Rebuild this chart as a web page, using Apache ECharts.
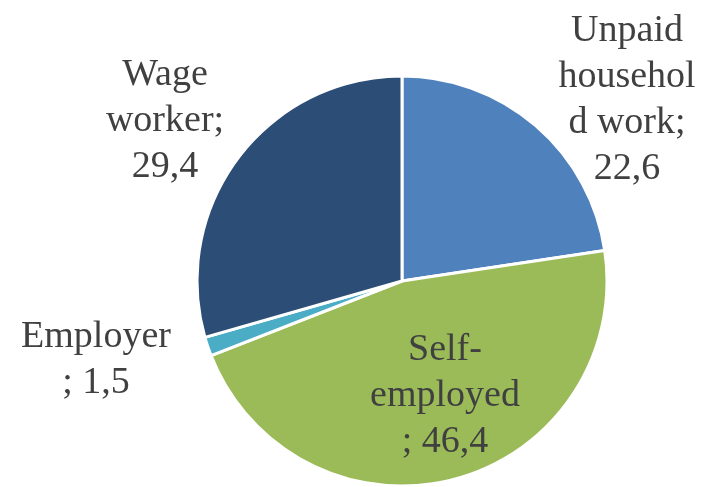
<!DOCTYPE html>
<html>
<head>
<meta charset="utf-8">
<script src="https://cdn.jsdelivr.net/npm/echarts@6/dist/echarts.min.js"></script>
<style>
  html, body { margin: 0; padding: 0; background: #ffffff; }
  #chart { width: 707px; height: 487px; }
</style>
</head>
<body>
<div id="chart"></div>
<script>
// Employment status shares (%)
const categories = ['Unpaid household work', 'Self-employed', 'Employer', 'Wage worker'];
const values = [22.6, 46.4, 1.5, 29.4];
// Category text as wrapped in the label boxes
const wrappedNames = ['Unpaid\nhousehol\nd work;', 'Self-\nemployed\n;', 'Employer\n;', 'Wage\nworker;'];
const colors = ['#4F81BD', '#9BBB59', '#4BACC6', '#2C4D75'];

// Label box centres (layout only)
const labelSpots = [[627, 100], [445, 396], [96, 360], [165, 121]];

const fmt = v => String(v).replace('.', ',');

const chart = echarts.init(document.getElementById('chart'), null, { renderer: 'canvas' });
chart.setOption({
  animation: false,
  backgroundColor: '#ffffff',
  series: [{
    type: 'pie',
    center: [402, 281],
    radius: 205,
    startAngle: 90,
    clockwise: true,
    silent: true,
    avoidLabelOverlap: false,
    data: categories.map((c, i) => ({
      name: c,
      value: values[i],
      itemStyle: { color: colors[i] }
    })),
    itemStyle: { borderColor: '#ffffff', borderWidth: 3 },
    label: {
      show: true,
      position: 'outside',
      overflow: 'none',
      formatter: p => {
        const w = wrappedNames[p.dataIndex];
        // a trailing lone ';' takes the value on the same line
        return w.endsWith('\n;') ? w + ' ' + fmt(p.value) : w + '\n' + fmt(p.value);
      },
      fontFamily: "'Liberation Serif', 'Times New Roman', serif",
      fontSize: 38,
      lineHeight: 46,
      color: '#404040',
      align: 'center'
    },
    labelLine: { show: false },
    labelLayout: p => ({
      x: labelSpots[p.dataIndex][0],
      y: labelSpots[p.dataIndex][1],
      align: 'center',
      verticalAlign: 'middle'
    })
  }]
});
</script>
</body>
</html>
